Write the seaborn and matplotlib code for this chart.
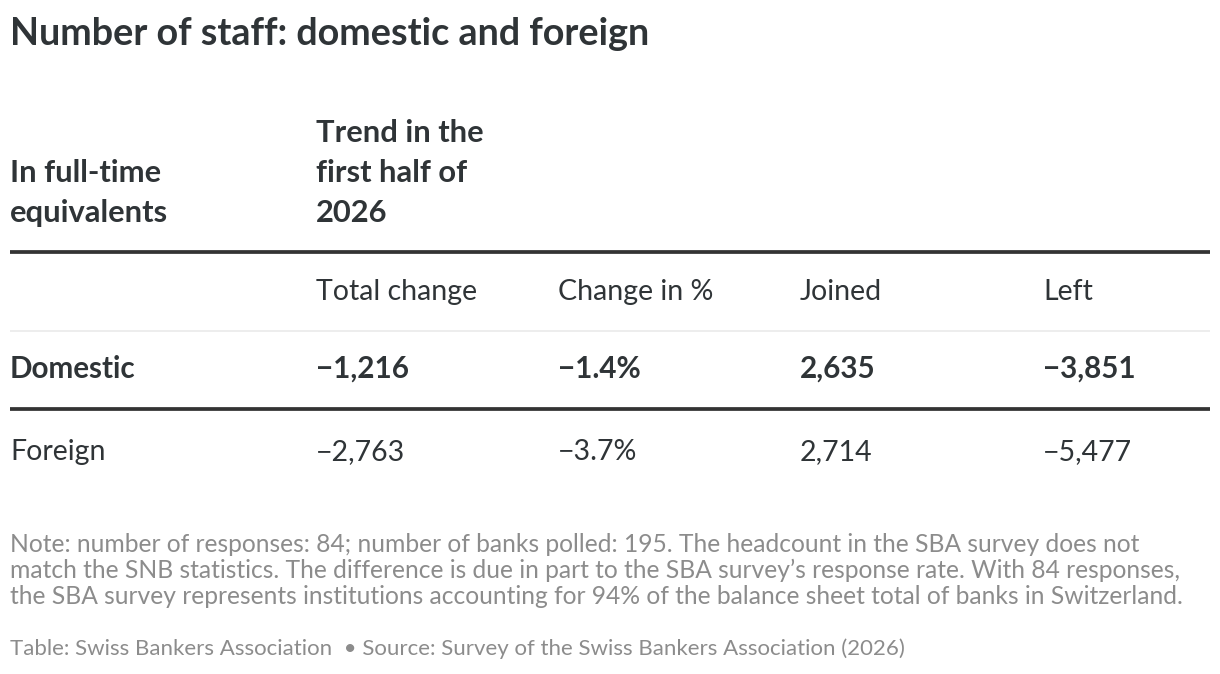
import matplotlib
matplotlib.use("Agg")
import matplotlib.pyplot as plt
import seaborn as sns

# ---- data ----
title = "Number of staff: domestic and foreign"
row_header = ["In full-time", "equivalents"]
group_header = ["Trend in the", "first half of", "2026"]
column_labels = ["Total change", "Change in %", "Joined", "Left"]
categories = ["Domestic", "Foreign"]
total_change = [-1216, -2763]
change_pct = [-1.4, -3.7]
joined = [2635, 2714]
left = [-3851, -5477]
note_lines = [
    "Note: number of responses: 84; number of banks polled: 195. The headcount in the SBA survey does not",
    "match the SNB statistics. The difference is due in part to the SBA survey\u2019s response rate. With 84 responses,",
    "the SBA survey represents institutions accounting for 94% of the balance sheet total of banks in Switzerland.",
]
source = "Table: Swiss Bankers Association  \u2022 Source: Survey of the Swiss Bankers Association (2026)"


def fmt_int(v):
    s = f"{abs(v):,}"
    return ("\u2212" + s) if v < 0 else s


def fmt_pct(v):
    s = f"{abs(v):.1f}%"
    return ("\u2212" + s) if v < 0 else s


sns.set_theme(style="white")
plt.rcParams['font.family'] = ['Lato', 'DejaVu Sans']

DARK = "#2f3437"
GREY = "#8c8c8c"

fig = plt.figure(figsize=(12.2, 6.74), dpi=100)
ax = fig.add_axes([0, 0, 1, 1])
ax.set_xlim(0, 1220)
ax.set_ylim(674, 0)
ax.axis("off")

# layout (pixel coordinates)
x0 = 10
col_x = [316, 558, 800, 1043]
x_end = 1210
REG = 20.5
BOLD = 21.3
HEAD = 22.2

ax.text(x0, 45, title, fontsize=27.2, fontweight="bold", color=DARK, va="baseline", ha="left")

for yb, line in zip([182, 222], row_header):
    ax.text(x0, yb, line, fontsize=HEAD, fontweight="bold", color=DARK, va="baseline", ha="left")
for yb, line in zip([142, 182, 222], group_header):
    ax.text(col_x[0], yb, line, fontsize=HEAD, fontweight="bold", color=DARK, va="baseline", ha="left")

ax.plot([x0, x_end], [252, 252], color="#333333", lw=2.7, solid_capstyle="butt")

for x, lab in zip(col_x, column_labels):
    ax.text(x, 300, lab, fontsize=REG, color=DARK, va="baseline", ha="left")

ax.plot([x0, x_end], [331, 331], color="#ececec", lw=1.3, solid_capstyle="butt")

row_base = [378, 460]
for i, cat in enumerate(categories):
    bold = i == 0
    w = "bold" if bold else "normal"
    fs = BOLD if bold else REG
    vals = [fmt_int(total_change[i]), fmt_pct(change_pct[i]), fmt_int(joined[i]), fmt_int(left[i])]
    ax.text(x0, row_base[i], cat, fontsize=fs, fontweight=w, color=DARK, va="baseline", ha="left")
    for x, v in zip(col_x, vals):
        ax.text(x, row_base[i], v, fontsize=fs, fontweight=w, color=DARK, va="baseline", ha="left")

ax.plot([x0, x_end], [409, 409], color="#333333", lw=2.7, solid_capstyle="butt")

for yb, line in zip([552, 578, 604], note_lines):
    ax.text(x0, yb, line, fontsize=17.7, color=GREY, va="baseline", ha="left")
ax.text(x0, 655, source, fontsize=16, color=GREY, va="baseline", ha="left")

fig.savefig("out.png", dpi=100, facecolor="white")
